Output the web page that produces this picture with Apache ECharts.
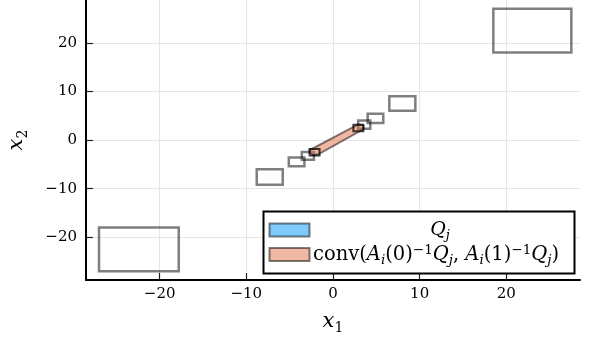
<!DOCTYPE html>
<html><head><meta charset="utf-8">
<script src="https://cdn.jsdelivr.net/npm/echarts@6/dist/echarts.min.js"></script>
<style>html,body{margin:0;padding:0;background:#fff}#c{width:589px;height:337px}</style>
</head><body><div id="c"></div>
<script>
// tick values
const xTicks = [-20, -10, 0, 10, 20];
const yTicks = [-20, -10, 0, 10, 20];
// Q_j boxes (outlined)
const boxX0 = [-27.0, -8.8, -5.1, -3.6, 2.9, 4.0, 6.5, 18.5];
const boxX1 = [-17.8, -5.8, -3.3, -2.2, 4.3, 5.8, 9.5, 27.5];
const boxY0 = [-27.0, -9.2, -5.4, -4.05, 2.3, 3.5, 6.0, 18.0];
const boxY1 = [-18.0, -6.0, -3.6, -2.45, 4.0, 5.4, 9.0, 27.0];
// end boxes (overlapping, dark)
const endX0 = [-2.7, 2.35];
const endX1 = [-1.55, 3.5];
const endY0 = [-3.2, 1.8];
const endY1 = [-1.85, 3.15];
// conv hull polygon
const hullX = [-2.7, -2.4, 2.95, 3.5, 3.55, -1.7, -2.25, -2.7];
const hullY = [-2.0, -1.8, 3.25, 3.0, 2.25, -2.95, -3.15, -2.65];

const chart = echarts.init(document.getElementById('c'), null, {renderer: 'canvas'});
const serif = 'DejaVu Serif';
const tickFont = {fontFamily: serif, fontSize: 15, color: '#000'};

function boxRender(stroke, lw) {
  return function (params, api) {
    const p0 = api.coord([api.value(0), api.value(3)]);
    const p1 = api.coord([api.value(2), api.value(1)]);
    return {
      type: 'rect',
      shape: {x: p0[0], y: p0[1], width: p1[0] - p0[0], height: p1[1] - p0[1]},
      style: {fill: 'none', stroke: stroke, lineWidth: lw}
    };
  };
}

const option = {
  animation: false,
  backgroundColor: '#fff',
  grid: {left: 86, right: 9, top: 0, bottom: 57, containLabel: false, outerBoundsMode: 'none'},
  xAxis: {
    type: 'value', min: -28.5, max: 28.5,
    axisLine: {show: true, onZero: false, lineStyle: {color: '#000', width: 2}},
    axisTick: {show: true, inside: true, length: 7, customValues: xTicks, lineStyle: {color: '#222', width: 1.2}},
    axisLabel: {customValues: xTicks, margin: 7, ...tickFont,
      formatter: v => (v < 0 ? '\u2212' + Math.abs(v) : '' + v)},
    splitLine: {show: true, customValues: xTicks, lineStyle: {color: '#e5e5e5', width: 1}},
    name: '{i|x}{s|1}', nameLocation: 'middle', nameGap: 29,
    nameTextStyle: {rich: {
      i: {fontFamily: serif, fontStyle: 'italic', fontSize: 21, color: '#000', lineHeight: 26},
      s: {fontFamily: serif, fontSize: 14, color: '#000', lineHeight: 16, verticalAlign: 'bottom'}
    }}
  },
  yAxis: {
    type: 'value', min: -28.8, max: 28.8,
    axisLine: {show: true, onZero: false, lineStyle: {color: '#000', width: 2}},
    axisTick: {show: true, inside: true, length: 7, customValues: yTicks, lineStyle: {color: '#222', width: 1.2}},
    axisLabel: {customValues: yTicks, margin: 9, ...tickFont,
      formatter: v => (v < 0 ? '\u2212' + Math.abs(v) : '' + v)},
    splitLine: {show: true, customValues: yTicks, lineStyle: {color: '#e5e5e5', width: 1}},
    name: '{i|x}{s|2}', nameLocation: 'middle', nameGap: 56,
    nameTextStyle: {rich: {
      i: {fontFamily: serif, fontStyle: 'italic', fontSize: 21, color: '#000', lineHeight: 26},
      s: {fontFamily: serif, fontSize: 14, color: '#000', lineHeight: 16, verticalAlign: 'bottom'}
    }}
  },
  series: [
    {
      type: 'custom', name: 'Q_j', z: 2,
      data: boxX0.map((v, i) => [v, boxY0[i], boxX1[i], boxY1[i]]),
      renderItem: boxRender('rgba(0,0,0,0.5)', 2.5)
    },
    {
      type: 'custom', name: 'conv', z: 3,
      data: [[hullX[0], hullY[0]]],
      renderItem: function (params, api) {
        const pts = hullX.map((x, k) => api.coord([x, hullY[k]]));
        return {type: 'polygon', shape: {points: pts},
          style: {fill: 'rgba(226,111,70,0.5)', stroke: 'rgba(0,0,0,0.5)', lineWidth: 2}};
      }
    },
    {
      type: 'custom', name: 'ends', z: 4,
      data: endX0.map((v, i) => [v, endY0[i], endX1[i], endY1[i]]),
      renderItem: boxRender('rgba(0,0,0,0.75)', 2)
    }
  ],
  graphic: [
    {type: 'rect', z: 100, shape: {x: 263.5, y: 211.5, width: 311, height: 62},
      style: {fill: '#fff', stroke: '#000', lineWidth: 2}},
    {type: 'rect', z: 101, shape: {x: 269.5, y: 223.5, width: 40, height: 13},
      style: {fill: '#7fccfc', stroke: 'rgba(0,0,0,0.5)', lineWidth: 2}},
    {type: 'rect', z: 101, shape: {x: 269.5, y: 248, width: 40, height: 13},
      style: {fill: '#f0b7a2', stroke: 'rgba(0,0,0,0.5)', lineWidth: 2}},
    {type: 'text', z: 101, x: 440, y: 230,
      style: {text: '{i|Q}{sb|j}', align: 'center', verticalAlign: 'middle',
        rich: {
          i: {fontFamily: serif, fontStyle: 'italic', fontSize: 19, fill: '#000', lineHeight: 24},
          sb: {fontFamily: serif, fontStyle: 'italic', fontSize: 13, fill: '#000', lineHeight: 12, verticalAlign: 'bottom'}
        }}},
    {type: 'text', z: 101, x: 313, y: 255,
      style: {text: '{n|conv(}{i|A}{sb|i}{n|(0)}{sp|\u22121}{i|Q}{sb|j}{n|, }{i|A}{sb|i}{n|(1)}{sp|\u22121}{i|Q}{sb|j}{n|)}',
        align: 'left', verticalAlign: 'middle',
        rich: {
          n: {fontFamily: serif, fontSize: 19.5, fill: '#000', lineHeight: 24},
          i: {fontFamily: serif, fontStyle: 'italic', fontSize: 19.5, fill: '#000', lineHeight: 24},
          sb: {fontFamily: serif, fontStyle: 'italic', fontSize: 13.5, fill: '#000', lineHeight: 12, verticalAlign: 'bottom'},
          sp: {fontFamily: serif, fontSize: 13.5, fill: '#000', lineHeight: 12, verticalAlign: 'top'}
        }}}
  ]
};
chart.setOption(option);
</script></body></html>
